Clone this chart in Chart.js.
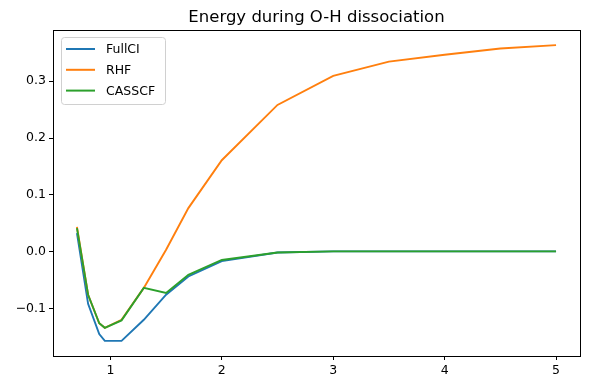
<!DOCTYPE html>
<html>
<head>
<meta charset="utf-8">
<script src="https://cdn.jsdelivr.net/npm/chart.js@4/dist/chart.umd.min.js"></script>
<style>
  html, body { margin: 0; padding: 0; background: #fff; }
  canvas { display: block; }
</style>
</head>
<body>
<canvas id="dissociation" width="590" height="390"></canvas>
<script>
// O-H bond length and relative energies
var bondLengths = [0.7, 0.8, 0.9, 0.95, 1.1, 1.3, 1.5, 1.7, 2.0, 2.5, 3.0, 3.5, 4.0, 4.5, 5.0];
var fullciEnergy = [0.033, -0.091, -0.144, -0.156, -0.156, -0.119, -0.075, -0.043, -0.016, -0.001, 0.001, 0.001, 0.001, 0.001, 0.001];
var rhfEnergy = [0.044, -0.075, -0.125, -0.133, -0.119, -0.063, 0.004, 0.077, 0.161, 0.258, 0.309, 0.334, 0.346, 0.357, 0.363];
var casscfEnergy = [0.042, -0.075, -0.125, -0.133, -0.120, -0.063, -0.072, -0.040, -0.014, -0.001, 0.001, 0.001, 0.001, 0.001, 0.001];
var seriesNames = ['FullCI', 'RHF', 'CASSCF'];
var seriesColors = ['#1f77b4', '#ff7f0e', '#2ca02c'];
var xTicks = [1, 2, 3, 4, 5];
var yTicks = [-0.1, 0.0, 0.1, 0.2, 0.3];
var chartTitle = 'Energy during O-H dissociation';

var FONT = '"DejaVu Sans", sans-serif';

function points(ys) {
  return bondLengths.map(function (x, i) { return { x: x, y: ys[i] }; });
}

function fmtTick(v) {
  var s = Math.abs(v).toFixed(1);
  return v < -1e-9 ? '\u2212' + s : s;
}

// axes box, title and the legend inside the plot area (matplotlib look)
var mplDecor = {
  id: 'mplDecor',
  afterDraw: function (chart) {
    var ctx = chart.ctx, a = chart.chartArea;
    ctx.save();
    ctx.strokeStyle = '#000';
    ctx.lineWidth = 1;
    ctx.strokeRect(Math.round(a.left) + 0.5, Math.round(a.top) + 0.5,
      Math.round(a.right - a.left), Math.round(a.bottom - a.top));

    ctx.fillStyle = '#000';
    ctx.font = '16.5px ' + FONT;
    ctx.textAlign = 'center';
    ctx.textBaseline = 'alphabetic';
    ctx.fillText(chartTitle, (a.left + a.right) / 2, a.top - 8);

    // legend
    var lx = a.left + 8, ly = a.top + 7, lw = 104, lh = 67;
    ctx.beginPath();
    ctx.roundRect(lx + 0.5, ly + 0.5, lw, lh, 3);
    ctx.fillStyle = 'rgba(255,255,255,0.8)';
    ctx.fill();
    ctx.strokeStyle = '#d0d0d0';
    ctx.stroke();
    ctx.font = '12.5px ' + FONT;
    ctx.textAlign = 'left';
    ctx.textBaseline = 'middle';
    chart.data.datasets.forEach(function (ds, i) {
      var y = ly + 12 + i * 20.8;
      ctx.beginPath();
      ctx.strokeStyle = ds.borderColor;
      ctx.lineWidth = 2;
      ctx.moveTo(lx + 5, y);
      ctx.lineTo(lx + 34, y);
      ctx.stroke();
      ctx.fillStyle = '#000';
      ctx.fillText(ds.label, lx + 45, y + 1);
    });
    ctx.restore();
  }
};

var data = {
  datasets: [fullciEnergy, rhfEnergy, casscfEnergy].map(function (ys, i) {
    return {
      label: seriesNames[i],
      data: points(ys),
      borderColor: seriesColors[i],
      backgroundColor: seriesColors[i],
      borderWidth: 1.9,
      pointRadius: 0,
      tension: 0,
      order: 3 - i
    };
  })
};

var config = {
  type: 'line',
  data: data,
  options: {
    responsive: false,
    animation: false,
    devicePixelRatio: 1,
    layout: { padding: { top: 30, right: 10, left: 0, bottom: 0 } },
    plugins: {
      legend: { display: false },
      title: { display: false },
      tooltip: { enabled: false }
    },
    scales: {
      x: {
        type: 'linear',
        min: 0.485,
        max: 5.215,
        afterBuildTicks: function (s) { s.ticks = xTicks.map(function (v) { return { value: v }; }); },
        afterFit: function (s) { s.height = 34; },
        grid: { drawOnChartArea: false, drawTicks: true, tickLength: 4, color: '#000' },
        border: { display: false },
        ticks: {
          color: '#000',
          padding: 3,
          maxRotation: 0,
          font: { family: FONT, size: 12.5 },
          callback: function (v) { return String(v); }
        }
      },
      y: {
        type: 'linear',
        min: -0.1825,
        max: 0.3895,
        afterBuildTicks: function (s) { s.ticks = yTicks.map(function (v) { return { value: v }; }); },
        afterFit: function (s) { s.width = 53; },
        grid: { drawOnChartArea: false, drawTicks: true, tickLength: 4, color: '#000' },
        border: { display: false },
        ticks: {
          color: '#000',
          padding: 3,
          font: { family: FONT, size: 12.5 },
          callback: function (v) { return fmtTick(v); }
        }
      }
    }
  },
  plugins: [mplDecor]
};

window.onload = function () {
  var ctx = document.getElementById('dissociation').getContext('2d');
  window.energyChart = new Chart(ctx, config);
};
</script>
</body>
</html>
